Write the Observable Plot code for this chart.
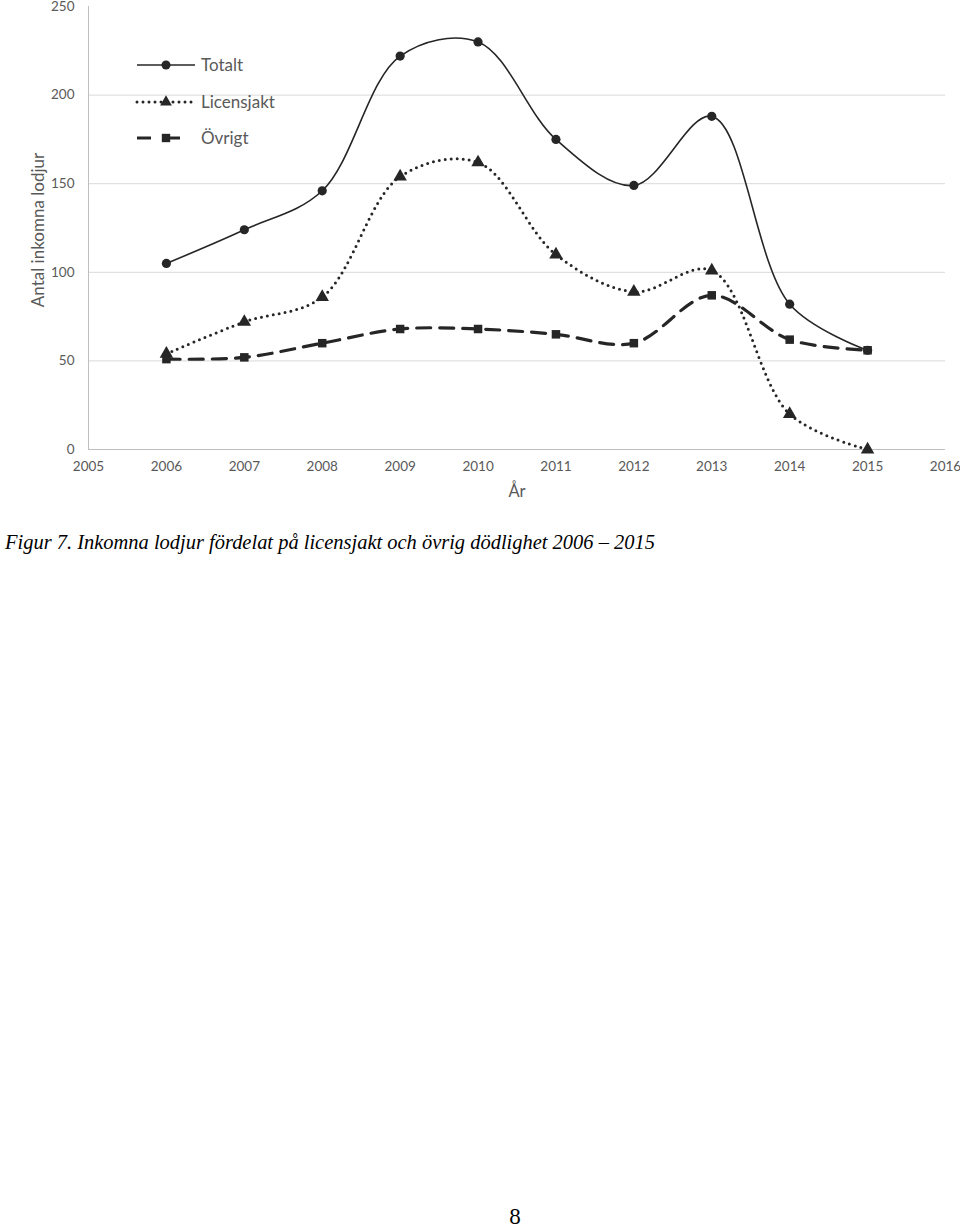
<!DOCTYPE html>
<html>
<head>
<meta charset="utf-8">
<script src="https://cdn.jsdelivr.net/npm/d3@7"></script>
<script src="https://cdn.jsdelivr.net/npm/@observablehq/plot@0.6"></script>
<style>
  body { margin: 0; background: #fff; width: 960px; height: 1229px; position: relative; overflow: hidden; }
  #chart { position: absolute; left: 0; top: 0; }
  #legend { position: absolute; left: 0; top: 0; }
  .caption { position: absolute; left: 5px; top: 529px; font-family: "Liberation Serif", serif; font-style: italic; font-size: 22px; color: #000; white-space: nowrap; transform: scaleX(0.93); transform-origin: left top; }
  .pagenum { position: absolute; left: 0; width: 1030px; text-align: center; top: 1205px; font-family: "Liberation Serif", serif; font-size: 23px; line-height: 23px; color: #000; }
</style>
</head>
<body>
<div id="chart"></div>
<svg id="legend" width="300" height="160"></svg>
<div class="caption">Figur 7. Inkomna lodjur fördelat på licensjakt och övrig dödlighet 2006 – 2015</div>
<div class="pagenum">8</div>
<script>
const years = [2006, 2007, 2008, 2009, 2010, 2011, 2012, 2013, 2014, 2015];
const totalt = [105, 124, 146, 222, 230, 175, 149, 188, 82, 56];
const licensjakt = [54, 72, 86, 154, 162, 110, 89, 101, 20, 0];
const ovrigt = [51, 52, 60, 68, 68, 65, 60, 87, 62, 56];
const xTicks = [2005, 2006, 2007, 2008, 2009, 2010, 2011, 2012, 2013, 2014, 2015, 2016];
const yTicks = [0, 50, 100, 150, 200, 250];
const seriesNames = ["Totalt", "Licensjakt", "Övrigt"];

const ink = "#262626";
const rows = (vals) => years.map((yr, i) => ({year: yr, value: vals[i]}));
const dT = rows(totalt), dL = rows(licensjakt), dO = rows(ovrigt);

const chart = Plot.plot({
  width: 960,
  height: 510,
  marginLeft: 88,
  marginRight: 15,
  marginTop: 6,
  marginBottom: 61,
  style: {fontFamily: "Lato, sans-serif", fontSize: "13.5px", color: "#595959", background: "transparent", overflow: "visible"},
  x: {domain: [2005, 2016], ticks: xTicks},
  y: {domain: [0, 250], ticks: yTicks},
  marks: [
    Plot.gridY([50, 100, 150, 200], {stroke: "#d9d9d9", strokeOpacity: 1}),
    Plot.ruleY([0], {stroke: "#bfbfbf"}),
    Plot.ruleX([2005], {y1: 0, y2: 250, stroke: "#bfbfbf"}),
    Plot.axisX({ticks: xTicks, tickFormat: d => String(d), tickSize: 0, tickPadding: 12, label: null, fontSize: 13.5}),
    Plot.axisY({ticks: yTicks, tickSize: 0, tickPadding: 14, label: null, fontSize: 13.5}),
    Plot.text(["År"], {frameAnchor: "bottom", dy: 47, fontSize: 16.5, fill: "#595959"}),
    Plot.text(["Antal inkomna lodjur"], {frameAnchor: "left", textAnchor: "middle", rotate: -90, dx: -50, dy: 2, fontSize: 17, fill: "#595959"}),
    Plot.line(dO, {x: "year", y: "value", curve: "catmull-rom", stroke: ink, strokeWidth: 3.2, strokeDasharray: "14 9"}),
    Plot.line(dL, {x: "year", y: "value", curve: "catmull-rom", stroke: ink, strokeWidth: 3, strokeDasharray: "0 6", strokeLinecap: "round"}),
    Plot.line(dT, {x: "year", y: "value", curve: "catmull-rom", stroke: ink, strokeWidth: 1.6}),
    Plot.dot(dT, {x: "year", y: "value", r: 4.6, fill: ink, stroke: "none", symbol: "circle"}),
    Plot.dot(dL, {x: "year", y: "value", r: 5, fill: ink, stroke: "none", symbol: "triangle"}),
    Plot.dot(dO, {x: "year", y: "value", r: 4.8, fill: ink, stroke: "none", symbol: "square"})
  ]
});
document.getElementById("chart").appendChild(chart);

// Legend
const lg = d3.select("#legend");
const styles = [
  {dash: null, w: 1.6, cap: "butt", sym: d3.symbolCircle, size: 64},
  {dash: "0 6", w: 3, cap: "round", sym: d3.symbolTriangle, size: 60},
  {dash: "14 15", w: 3.2, cap: "butt", sym: d3.symbolSquare, size: 70}
];
const ys = [65, 102, 138];
seriesNames.forEach((name, i) => {
  const s = styles[i];
  const g = lg.append("g");
  const ln = g.append("line").attr("x1", 137).attr("x2", 195).attr("y1", ys[i]).attr("y2", ys[i])
    .attr("stroke", ink).attr("stroke-width", s.w).attr("stroke-linecap", s.cap);
  if (s.dash) ln.attr("stroke-dasharray", s.dash);
  g.append("path").attr("d", d3.symbol(s.sym, s.size)()).attr("transform", `translate(166,${ys[i]})`).attr("fill", ink);
  g.append("text").attr("x", 201).attr("y", ys[i]).attr("dy", "0.35em").attr("font-family", "Lato, sans-serif")
    .attr("font-size", 17).attr("fill", "#595959").text(name);
});
</script>
</body>
</html>
